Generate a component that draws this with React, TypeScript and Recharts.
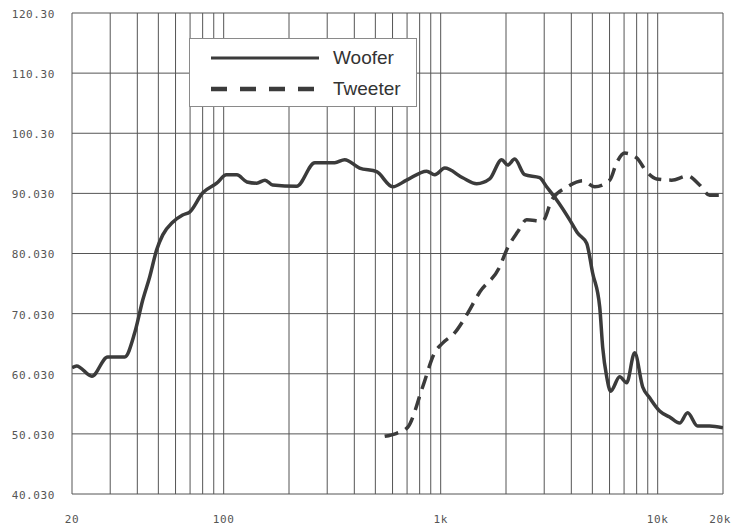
import { LineChart, Line, XAxis, YAxis, CartesianGrid, Legend } from 'recharts';

// frequency (Hz) / level (dB)
const wooferFreq = [20, 21, 24.7, 29.2, 35, 38.9, 42.4, 45.6, 49.1, 52.4, 58.2, 64.7, 69.7, 80.1, 92.9, 103, 115, 128, 142, 155, 168, 217, 263, 325, 361, 423, 507, 601, 697, 862, 939, 1044, 1263, 1466, 1682, 1910, 2037, 2193, 2438, 2858, 3078, 3425, 3932, 4276, 4706, 5012, 5406, 5580, 5821, 6068, 6683, 7194, 7833, 8531, 9184, 10210, 11350, 12620, 13740, 15280, 17350, 20000];
const wooferDb = [61.0, 61.3, 59.6, 62.8, 62.8, 66.8, 72.3, 76.1, 80.6, 83.1, 85.2, 86.4, 86.9, 90.1, 91.7, 93.1, 93.1, 91.9, 91.7, 92.2, 91.4, 91.2, 95.1, 95.1, 95.6, 94.2, 93.6, 91.1, 92.2, 93.7, 93.1, 94.2, 92.6, 91.6, 92.4, 95.6, 94.7, 95.7, 93.1, 92.6, 91.1, 88.9, 85.6, 83.4, 81.7, 76.8, 71.1, 64.4, 59.5, 57.1, 59.5, 58.5, 63.5, 57.8, 56.0, 53.8, 52.8, 51.8, 53.5, 51.3, 51.3, 51.0];

const tweeterFreq = [552, 627, 705, 826, 938, 1021, 1160, 1318, 1514, 1871, 2014, 2264, 2490, 2951, 3251, 3846, 4514, 5129, 6012, 6473, 7047, 8000, 8892, 9886, 11600, 13740, 15600, 17350, 20000];
const tweeterDb = [49.6, 50.1, 51.1, 57.8, 63.5, 65.1, 66.8, 69.8, 73.6, 77.8, 80.6, 83.6, 85.6, 85.4, 88.9, 91.1, 92.1, 91.1, 92.2, 95.1, 96.7, 95.9, 93.6, 92.4, 92.2, 92.9, 91.4, 89.7, 89.7];

const xTicks = [20, 30, 40, 50, 60, 70, 80, 90, 100, 200, 300, 400, 500, 600, 700, 800, 900, 1000, 2000, 3000, 4000, 5000, 6000, 7000, 8000, 9000, 10000, 20000];
const xLabels: Record<number, string> = { 20: '20', 100: '100', 1000: '1k', 10000: '10k', 20000: '20k' };

const yTicks = [40, 50, 60, 70, 80, 90, 100, 110, 120];
const yLabels = ['40.030', '50.030', '60.030', '70.030', '80.030', '90.030', '100.30', '110.30', '120.30'];

const legendOrder = ['Woofer', 'Tweeter'];

const woofer = wooferFreq.map((f, i) => ({ f, db: wooferDb[i] }));
const tweeter = tweeterFreq.map((f, i) => ({ f, db: tweeterDb[i] }));

const ink = '#3b3b3b';
const tickStyle = { fontFamily: 'DejaVu Sans Mono', fontSize: 11, fill: '#555', letterSpacing: 0.6 };

function XTick({ x, y, payload }: any) {
  const label = xLabels[payload.value];
  if (!label) return null;
  const last = payload.value === 20000;
  return (
    <text x={last ? 731 : x} y={y} dy="0.71em" textAnchor={last ? 'end' : 'middle'} {...tickStyle}>
      {label}
    </text>
  );
}

function YTick({ x, y, payload }: any) {
  return (
    <text x={x} y={y} dy="0.45em" textAnchor="end" {...tickStyle}>
      {yLabels[yTicks.indexOf(payload.value)]}
    </text>
  );
}

function LegendBox({ payload }: any) {
  const items = [...(payload || [])].sort(
    (a: any, b: any) => legendOrder.indexOf(a.value) - legendOrder.indexOf(b.value)
  );
  return (
    <div
      style={{
        width: 228,
        height: 69,
        boxSizing: 'border-box',
        border: '1px solid #8a8a8a',
        background: '#fff',
        paddingTop: 3,
      }}
    >
      {items.map((entry: any) => (
        <div key={entry.value} style={{ display: 'flex', alignItems: 'center', height: 31, paddingLeft: 20 }}>
          <svg width={110} height={8}>
            <line
              x1={1}
              x2={109}
              y1={4}
              y2={4}
              stroke={ink}
              strokeWidth={entry.value === 'Tweeter' ? 4.5 : 3}
              strokeDasharray={entry.value === 'Tweeter' ? '16 13' : undefined}
            />
          </svg>
          <span style={{ marginLeft: 13, fontFamily: 'Liberation Sans', fontSize: 19, color: '#333' }}>{entry.value}</span>
        </div>
      ))}
    </div>
  );
}

export default function App() {
  return (
    <div style={{ position: 'absolute', left: 0, top: 0, background: '#fff' }}>
      <LineChart width={731} height={525} margin={{ top: 13, right: 8, left: 0, bottom: 0 }}>
        <CartesianGrid stroke="#555" strokeWidth={1} />
        <XAxis
          dataKey="f"
          type="number"
          scale="log"
          domain={[20, 20000]}
          ticks={xTicks}
          interval={0}
          allowDataOverflow
          axisLine={false}
          tickLine={false}
          tickMargin={15}
          height={31}
          tick={<XTick />}
        />
        <YAxis
          type="number"
          domain={[40, 120]}
          ticks={yTicks}
          interval={0}
          axisLine={false}
          tickLine={false}
          tickMargin={11}
          width={72}
          tick={<YTick />}
        />
        <Legend
          layout="vertical"
          align="center"
          verticalAlign="middle"
          wrapperStyle={{ left: 189, top: 38, width: 228 }}
          content={<LegendBox />}
        />
        <Line
          data={woofer}
          dataKey="db"
          name="Woofer"
          type="monotone"
          stroke={ink}
          strokeWidth={3.5}
          dot={false}
          isAnimationActive={false}
        />
        <Line
          data={tweeter}
          dataKey="db"
          name="Tweeter"
          type="monotone"
          stroke={ink}
          strokeWidth={3.5}
          strokeDasharray="14 8"
          dot={false}
          isAnimationActive={false}
        />
      </LineChart>
    </div>
  );
}
